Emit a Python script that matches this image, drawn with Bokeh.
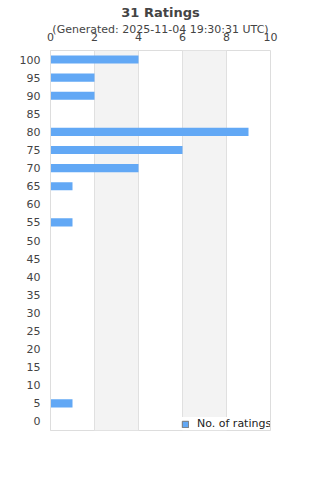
from bokeh.plotting import figure
from bokeh.models import FactorRange, Range1d, Title, Legend, LegendItem
from bokeh.embed import file_html
from bokeh.resources import INLINE

categories = ["0", "5", "10", "15", "20", "25", "30", "35", "40", "45", "50",
              "55", "60", "65", "70", "75", "80", "85", "90", "95", "100"]
counts = [0, 1, 0, 0, 0, 0, 0, 0, 0, 0, 0,
          1, 0, 1, 4, 6, 9, 0, 2, 2, 4]
x_ticks = [0, 2, 4, 6, 8, 10]
title_text = "31 Ratings"
subtitle_text = "(Generated: 2025-11-04 19:30:31 UTC)"
series_name = "No. of ratings"

FONT = "DejaVu Sans"
TXT = "#444444"

p = figure(width=320, height=480, output_backend="svg", toolbar_location=None,
           y_range=FactorRange(factors=categories, range_padding=0),
           x_range=Range1d(0, 10), x_axis_location="above",
           min_border_left=50, min_border_right=50, min_border_bottom=50,
           min_border_top=0, title=None)

bars = p.hbar(y=categories, right=counts, left=0, height=0.45,
              fill_color="#62a8f5", line_color=None)
nan = float("nan")
# legend proxy only (not drawn in the plot area)
dummy = p.hbar(y=[categories[0]], left=[nan], right=[nan], height=0.45,
               fill_color="#62a8f5", line_color="#777777")

p.outline_line_color = "#dddddd"
p.background_fill_color = "white"
p.border_fill_color = "white"

xa = p.xaxis[0]
xa.ticker = x_ticks
xa.axis_line_color = None
xa.major_tick_line_color = None
xa.minor_tick_line_color = None
xa.major_tick_out = 0
xa.major_tick_in = 0
xa.major_label_standoff = 10
xa.major_label_text_font = FONT
xa.major_label_text_font_size = "11px"
xa.major_label_text_color = TXT

ya = p.yaxis[0]
ya.axis_line_color = "#dddddd"
ya.major_tick_line_color = None
ya.minor_tick_line_color = None
ya.major_tick_out = 0
ya.major_tick_in = 0
ya.major_label_standoff = 10
ya.major_label_text_font = FONT
ya.major_label_text_font_size = "11px"
ya.major_label_text_color = TXT

p.ygrid.grid_line_color = None
p.xgrid.grid_line_color = "#e0e0e0"
p.xgrid.band_fill_color = "#f3f3f3"
p.xgrid.band_fill_alpha = 1.0

p.add_layout(Title(text=subtitle_text, align="center", text_font=FONT,
                   text_font_size="11px", text_font_style="normal",
                   text_color=TXT, standoff=-12), "above")
p.add_layout(Title(text=title_text, align="center", text_font=FONT,
                   text_font_size="13px", text_font_style="bold",
                   text_color=TXT, standoff=9, vertical_align="top"), "above")

legend = Legend(items=[LegendItem(label=series_name, renderers=[dummy])],
                location=(131, 0), orientation="horizontal",
                background_fill_color="white", background_fill_alpha=1.0,
                border_line_color=None, label_text_font=FONT,
                label_text_font_size="11px", label_text_color="#222222",
                glyph_width=8, glyph_height=8, label_standoff=8,
                padding=3, margin=0)
p.add_layout(legend, "center")

open("out.html", "w").write(file_html(p, INLINE))
